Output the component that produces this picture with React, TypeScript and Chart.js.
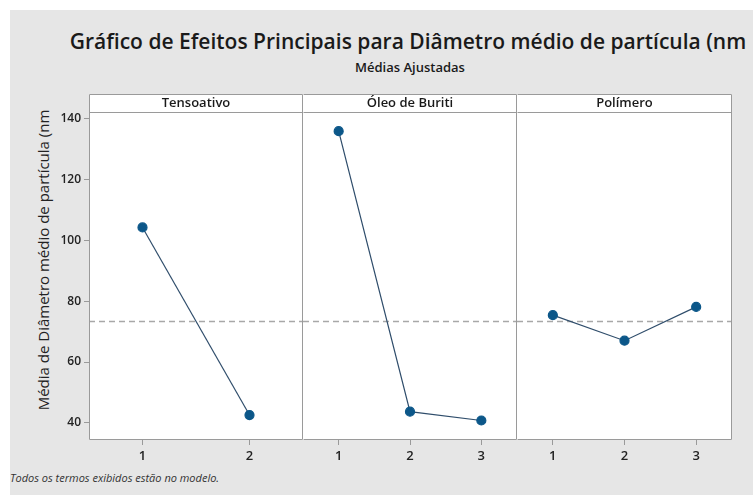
import React, { useEffect, useRef } from "react";
import { Chart, registerables } from "chart.js";

Chart.register(...registerables);

// ---------- data ----------
const yTicks = [40, 60, 80, 100, 120, 140];
const yMin = 34.4;
const yMax = 142.1;
const grandMean = 73.3;

const factorNames = ["Tensoativo", "Óleo de Buriti", "Polímero"];
const tensoativoLevels = ["1", "2"];
const tensoativoMeans = [104.2, 42.6];
const oleoLevels = ["1", "2", "3"];
const oleoMeans = [135.8, 43.7, 40.8];
const polimeroLevels = ["1", "2", "3"];
const polimeroMeans = [75.4, 67.0, 78.1];

const titleText = "Gráfico de Efeitos Principais para Diâmetro médio de partícula (nm";
const subtitleText = "Médias Ajustadas";
const yTitleText = "Média de Diâmetro médio de partícula (nm";
const footnoteText = "Todos os termos exibidos estão no modelo.";

// ---------- style ----------
const FONT = "'Open Sans', 'Noto Sans', sans-serif";
const BORDER = "#9a9a9a";
const LINE = "#2f4d6b";
const MARKER = "#0c5789";
const HEADER_H = 18;

const panelPlugin = {
  id: "panelFrame",
  beforeDraw(chart: any) {
    const { ctx, chartArea } = chart;
    const { left, right, top, bottom } = chartArea;
    ctx.save();
    ctx.fillStyle = "#ffffff";
    ctx.fillRect(left, top - HEADER_H, right - left, bottom - top + HEADER_H);
    ctx.restore();
  },
  beforeDatasetsDraw(chart: any) {
    const { ctx, chartArea, scales } = chart;
    const y = scales.y.getPixelForValue(grandMean);
    ctx.save();
    ctx.strokeStyle = "#a8a8a8";
    ctx.lineWidth = 1.5;
    ctx.setLineDash([6, 4]);
    ctx.beginPath();
    ctx.moveTo(chartArea.left, y);
    ctx.lineTo(chartArea.right, y);
    ctx.stroke();
    ctx.restore();
  },
  afterDraw(chart: any, _args: any, opts: any) {
    const { ctx, chartArea } = chart;
    const { left, right, top, bottom } = chartArea;
    ctx.save();
    ctx.strokeStyle = BORDER;
    ctx.lineWidth = 1;
    const l = left + 0.5;
    const r = right - 0.5;
    const ht = top - HEADER_H + 0.5;
    ctx.beginPath();
    ctx.moveTo(l, ht);
    ctx.lineTo(r, ht);
    ctx.moveTo(l, top + 0.5);
    ctx.lineTo(r, top + 0.5);
    ctx.moveTo(r, ht);
    ctx.lineTo(r, bottom - 0.5);
    ctx.moveTo(l, bottom - 0.5);
    ctx.lineTo(r, bottom - 0.5);
    if (opts.drawLeft) {
      ctx.moveTo(l, ht);
      ctx.lineTo(l, bottom - 0.5);
    }
    ctx.stroke();
    ctx.fillStyle = "#1a1a1a";
    ctx.font = `600 13px ${FONT}`;
    ctx.textAlign = "center";
    ctx.textBaseline = "middle";
    ctx.fillText(opts.title, (left + right) / 2, top - HEADER_H / 2 + 0.5);
    ctx.restore();
  },
};

type PanelProps = {
  title: string;
  labels: string[];
  values: number[];
  showY: boolean;
  left: number;
  width: number;
};

function Panel({ title, labels, values, showY, left, width }: PanelProps) {
  const ref = useRef<HTMLCanvasElement | null>(null);
  const height = 376;
  useEffect(() => {
    if (!ref.current) return;
    const chart = new Chart(ref.current, {
      type: "line",
      data: {
        labels,
        datasets: [
          {
            data: values,
            borderColor: LINE,
            borderWidth: 1.2,
            pointRadius: 4.5,
            pointHoverRadius: 4.5,
            pointBackgroundColor: MARKER,
            pointBorderColor: MARKER,
            tension: 0,
            clip: false as any,
          },
        ],
      },
      options: {
        responsive: false,
        maintainAspectRatio: false,
        animation: false,
        devicePixelRatio: 1,
        layout: {
          autoPadding: false,
          padding: { top: HEADER_H, left: 0, right: 0, bottom: 0 },
        },
        plugins: {
          legend: { display: false },
          tooltip: { enabled: false },
          panelFrame: { title, drawLeft: showY },
        } as any,
        scales: {
          x: {
            type: "category",
            offset: true,
            border: { display: false },
            grid: {
              display: true,
              drawOnChartArea: false,
              drawTicks: true,
              tickLength: 5,
              color: BORDER,
            },
            ticks: {
              color: "#222222",
              font: { family: FONT, size: 13, weight: 600 },
              padding: 3,
              maxRotation: 0,
            },
            afterFit: (s: any) => {
              s.height = 30;
              s.paddingLeft = 0;
              s.paddingRight = 0;
            },
          },
          y: {
            type: "linear",
            display: showY,
            min: yMin,
            max: yMax,
            border: { display: false },
            grid: {
              display: true,
              drawOnChartArea: false,
              drawTicks: true,
              tickLength: 5,
              color: BORDER,
            },
            ticks: {
              color: "#222222",
              font: { family: FONT, size: 12, weight: 600 },
              padding: 3,
            },
            afterBuildTicks: (s: any) => {
              s.ticks = yTicks.map((v) => ({ value: v }));
            },
            afterFit: (s: any) => {
              s.width = showY ? 79 : 0;
              s.paddingTop = 0;
              s.paddingBottom = 0;
            },
          },
        },
      },
      plugins: [panelPlugin],
    });
    return () => chart.destroy();
  }, []);
  return (
    <canvas
      ref={ref}
      width={width}
      height={height}
      style={{ position: "absolute", left, top: 84, width, height }}
    />
  );
}

export default function App() {
  return (
    <div
      style={{
        position: "absolute",
        left: 10,
        top: 10,
        width: 743,
        height: 485,
        background: "#e6e6e6",
        overflow: "hidden",
        fontFamily: FONT,
      }}
    >
      <div
        style={{
          position: "absolute",
          left: 0,
          top: 19,
          width: 796,
          textAlign: "center",
          whiteSpace: "nowrap",
          fontSize: 21,
          lineHeight: "24px",
          fontWeight: 600,
          color: "#1a1a1a",
        }}
      >
        {titleText}
      </div>
      <div
        style={{
          position: "absolute",
          left: 0,
          top: 49,
          width: 800,
          textAlign: "center",
          whiteSpace: "nowrap",
          fontSize: 13,
          lineHeight: "16px",
          fontWeight: 600,
          color: "#1a1a1a",
        }}
      >
        {subtitleText}
      </div>
      <div
        style={{
          position: "absolute",
          left: 33,
          top: 250,
          transform: "translate(-50%, -50%) rotate(-90deg)",
          whiteSpace: "nowrap",
          fontSize: 15,
          lineHeight: "18px",
          fontWeight: 500,
          color: "#222222",
        }}
      >
        {yTitleText}
      </div>
      <Panel title={factorNames[0]} labels={tensoativoLevels} values={tensoativoMeans} showY={true} left={0} width={293} />
      <Panel title={factorNames[1]} labels={oleoLevels} values={oleoMeans} showY={false} left={293} width={214} />
      <Panel title={factorNames[2]} labels={polimeroLevels} values={polimeroMeans} showY={false} left={507} width={215} />
      <div
        style={{
          position: "absolute",
          left: 0,
          top: 461,
          whiteSpace: "nowrap",
          fontSize: 11,
          lineHeight: "14px",
          fontStyle: "italic",
          color: "#333333",
        }}
      >
        {footnoteText}
      </div>
    </div>
  );
}
